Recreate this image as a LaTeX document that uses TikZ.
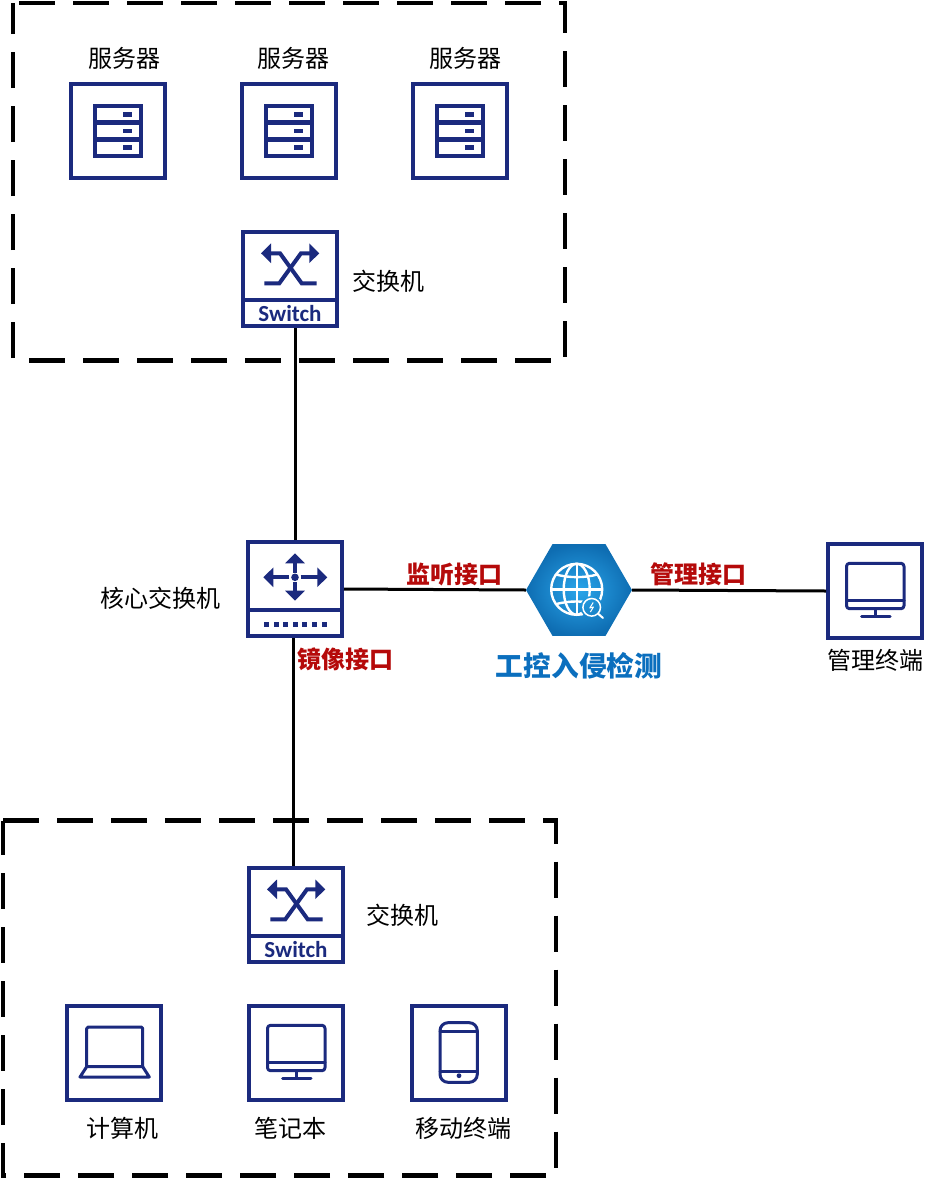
\documentclass[tikz,border=0pt]{standalone}
\usepackage{fontspec}
\setmainfont{Noto Sans CJK SC}
\newfontfamily\swfont{Carlito}
\usetikzlibrary{arrows.meta,positioning,shapes.geometric,calc}
\definecolor{nnavy}{HTML}{1B2A7E}
\definecolor{nred}{HTML}{B50A0A}
\definecolor{nblue}{HTML}{0B6FBE}
\definecolor{nhexin}{HTML}{2AA5EA}
\definecolor{nhexout}{HTML}{0E6DB2}
\tikzset{
  dev/.style={draw=nnavy, line width=4pt, minimum size=94pt, inner sep=0pt, fill=white},
  lbl/.style={font=\fontsize{24pt}{28pt}\selectfont, inner sep=0pt},
  port/.style={lbl, font=\fontsize{24pt}{28pt}\selectfont\bfseries, text=nred},
  zone/.style={draw=black, line width=4.3pt, dash pattern=on 36pt off 18pt},
  wire/.style={draw=black, line width=3pt},
  ico/.style={draw=nnavy, line width=3pt, line join=round, line cap=round},
  icoarr/.style={draw=nnavy, line width=4pt, -{Triangle[length=10pt,width=19pt,fill=nnavy]}},
  srvicon/.pic={
    \draw[draw=nnavy, line width=4.3pt] (-22.7,-25) rectangle (22.7,25);
    \draw[draw=nnavy, line width=4.3pt] (-22.7,-8.5) -- (22.7,-8.5) (-22.7,8.5) -- (22.7,8.5);
    \foreach \y in {-16.5,0,16.5}
      \fill[nnavy] (4.5,\y-2.2) rectangle (13.5,\y+2.2);
  },
  swicon/.pic={
    \draw[icoarr] (26.7,4.3) -- (11.7,4.3) -- (-10,-25.7) -- (-29,-25.7);
    \draw[icoarr] (-25.7,4.3) -- (-10.7,4.3) -- (11,-25.7) -- (29.3,-25.7);
    \draw[draw=nnavy, line width=4pt] (-47,21) -- (47,21);
    \node[font=\swfont\fontsize{23pt}{24pt}\selectfont\bfseries, text=nnavy, inner sep=0pt] at (0,35) {Switch};
  },
  coreicon/.pic={
    \fill[nnavy] (0,-11.7) circle (3.8);
    \draw[icoarr] (0,-16.3) -- (0,-35.7);
    \draw[icoarr] (0,-7) -- (0,11.7);
    \draw[icoarr] (-5.7,-11.7) -- (-31.7,-11.7);
    \draw[icoarr] (5.7,-11.7) -- (32.3,-11.7);
    \draw[draw=nnavy, line width=4pt] (-47,21) -- (47,21);
    \foreach \i in {0,...,6}
      \fill[nnavy] ({-28.3+9.55*\i-2.5},32.8) rectangle ({-28.3+9.55*\i+2.5},37.8);
  },
  monicon/.pic={
    \draw[ico, rounded corners=3pt] (-28.5,-27.7) rectangle (29,17.7);
    \draw[ico] (-28.5,9.7) -- (29,9.7);
    \draw[ico] (0.5,17.7) -- (0.5,25);
    \draw[ico] (-13.3,25) -- (15,25);
  },
  lapicon/.pic={
    \draw[ico, rounded corners=1.5pt] (-27.3,13.7) -- (-27.3,-26) -- (28.7,-26) -- (28.7,13.7);
    \draw[ico] (-27.3,13.7) -- (28.7,13.7) -- (35.3,24) -- (-34,24) -- cycle;
  },
  phoneicon/.pic={
    \draw[ico, rounded corners=8pt] (-19,-30.3) rectangle (18.3,29.3);
    \draw[ico] (-19,-21.3) -- (18.3,-21.3);
    \draw[ico] (-19,18) -- (18.3,18);
    \fill[nnavy] (0,22.7) circle (2.4);
  },
  globeicon/.pic={
    \begin{scope}[even odd rule]
      \clip (-60,-60) rectangle (60,60) (12.7,17.3) circle (11.5);
      \draw[draw=white, line width=2.4pt] (-2.3,-0.7) circle (25.5);
      \draw[draw=white, line width=2.4pt] (-2.3,-0.7) ellipse (13 and 25.5);
      \draw[draw=white, line width=2.4pt] (-2.3,-26.2) -- (-2.3,24.8);
      \draw[draw=white, line width=2.4pt] (-27.8,-0.7) -- (23.2,-0.7);
      \draw[draw=white, line width=2.4pt] (-23,-15.5) .. controls (-10,-12) and (5.4,-12) .. (18.4,-15.5);
      \draw[draw=white, line width=2.4pt] (-23,14.1) .. controls (-10,10.6) and (5.4,10.6) .. (18.4,14.1);
    \end{scope}
    \draw[draw=white, line width=1.5pt] (12.7,17.3) circle (8.8);
    \draw[draw=white, line width=2pt, line cap=round] (19,23.6) -- (24,28);
    \draw[draw=white, line width=1pt, line join=round] (14.2,12.5) -- (10.8,18) -- (14.4,17) -- (11.4,22);
  },
}
\begin{document}
\begin{tikzpicture}[x=1pt, y=-1pt]
  \useasboundingbox (0,0) rectangle (951,1178);
  % dashed zones
  \draw[zone, dash phase=48pt] (13,3) -- (565,3) -- (565,360.5) -- (13,360.5) -- cycle;
  \draw[zone] (3,820.5) -- (556,820.5) -- (556,1175.5) -- (3,1175.5) -- cycle;

  % server row
  \node[dev] (srva) at (118,131) {};
  \node[dev, right=73pt of srva] (srvb) {};
  \node[dev, right=73pt of srvb] (srvc) {};
  \node[lbl] (srvalbl) at (124,58) {服务器};
  \node[lbl] (srvblbl) at (293,58) {服务器};
  \node[lbl] (srvclbl) at (465,58) {服务器};
  \node[dev] (swtop) at (290,279) {};
  \node[lbl] (swtoplbl) at (388,281) {交换机};

  % centre row
  \node[dev] (core) at (295,589) {};
  \node[lbl] (corelbl) at (160,598) {核心交换机};
  \node[regular polygon, regular polygon sides=6, minimum size=106pt, inner sep=0pt,
        inner color=nhexin, outer color=nhexout] (ids) at (579,590) {};
  \node[lbl, font=\fontsize{27.7pt}{30pt}\selectfont\bfseries, text=nblue] (idslbl) at (579,666) {工控入侵检测};
  \node[dev] (mgmt) at (875,591) {};
  \node[lbl] (mgmtlbl) at (875,660) {管理终端};

  % bottom row
  \node[dev] (swbot) at (296,915) {};
  \node[lbl] (swbotlbl) at (402,915) {交换机};
  \node[dev] (pc) at (114,1053) {};
  \node[dev, right=84pt of pc] (note) {};
  \node[dev, right=65pt of note] (mobile) {};
  \node[lbl] (pclbl) at (122,1128) {计算机};
  \node[lbl] (notelbl) at (290,1128) {笔记本};
  \node[lbl] (mobilelbl) at (463,1128) {移动终端};

  \foreach \n in {srva,srvb,srvc}
    \pic at (\n) {srvicon};
  \pic at (swtop) {swicon};
  \pic at (swbot) {swicon};
  \pic at (core) {coreicon};
  \pic at (ids) {globeicon};
  \pic at (mgmt) {monicon};
  \pic at (pc) {lapicon};
  \pic at (note) {monicon};
  \pic at (mobile) {phoneicon};

  \coordinate (coreout) at ($(core.south)+(-1.5,0)$);
  \draw[wire] (core.north) -- (core.north |- swtop.south);
  \draw[wire] (coreout) -- (coreout |- swbot.north);
  \draw[wire] (core.east) -- (ids.west);
  \draw[wire] (ids.east) -- (mgmt.west);

  \node[port] (listen) at (454,574) {监听接口};
  \node[port] (manage) at (698,574) {管理接口};
  \node[port] (mirror) at (345,659) {镜像接口};
\end{tikzpicture}
\end{document}
